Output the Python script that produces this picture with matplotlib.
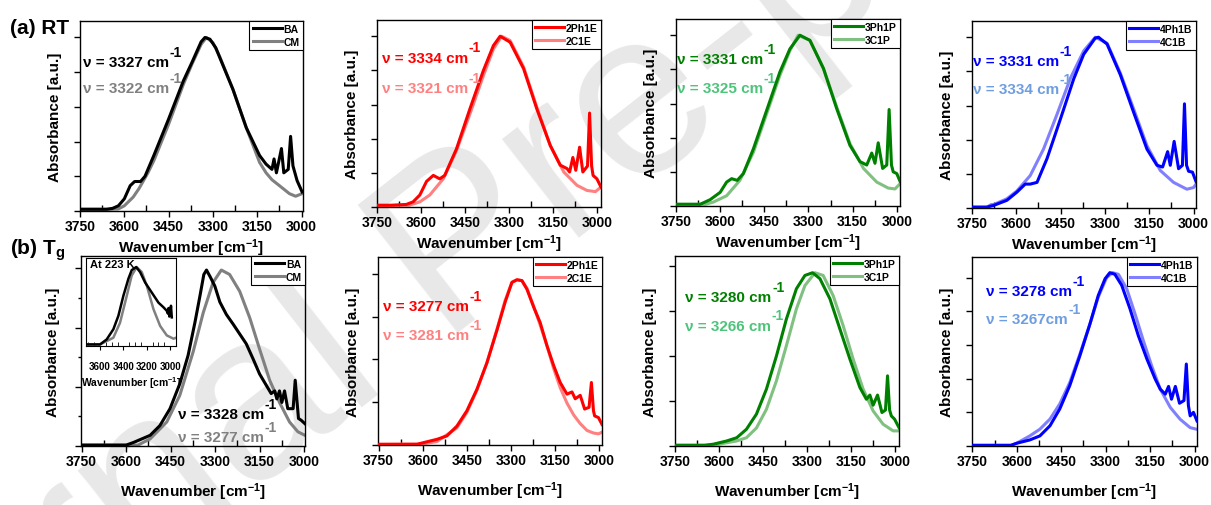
import matplotlib
matplotlib.use("Agg")
import matplotlib.pyplot as plt
from matplotlib.ticker import MultipleLocator

plt.rcParams['font.family'] = ['Liberation Sans', 'DejaVu Sans']
plt.rcParams['font.weight'] = 'bold'
plt.rcParams['mathtext.fontset'] = 'custom'
plt.rcParams['mathtext.rm'] = 'Liberation Sans:bold'
plt.rcParams['mathtext.it'] = 'Liberation Sans:bold'
plt.rcParams['mathtext.bf'] = 'Liberation Sans:bold'
plt.rcParams['mathtext.default'] = 'rm'

# ---- (a) RT spectra (wavenumber / normalised absorbance) ----
rt_ba_w = [3750, 3700, 3660, 3640, 3620, 3600, 3580, 3565, 3545, 3530, 3500, 3450, 3400, 3370, 3340, 3327, 3310,
           3290, 3277, 3232, 3187, 3142, 3120, 3100, 3093, 3085, 3068, 3060, 3045, 3037, 3029, 3015, 2998]
rt_ba_a = [0.01, 0.01, 0.01, 0.015, 0.03, 0.07, 0.146, 0.17, 0.17, 0.2, 0.32, 0.53, 0.75, 0.86, 0.975, 1.0, 0.99,
           0.94, 0.885, 0.70, 0.48, 0.32, 0.27, 0.24, 0.30, 0.22, 0.36, 0.22, 0.24, 0.43, 0.26, 0.175, 0.11]
rt_cm_w = [3750, 3650, 3620, 3600, 3570, 3550, 3520, 3500, 3450, 3400, 3370, 3340, 3322, 3300, 3277, 3232, 3187,
           3142, 3120, 3100, 3074, 3041, 3020, 2998]
rt_cm_a = [0.01, 0.01, 0.012, 0.03, 0.08, 0.13, 0.22, 0.29, 0.50, 0.73, 0.85, 0.96, 1.0, 0.97, 0.89, 0.70, 0.48,
           0.28, 0.22, 0.18, 0.145, 0.10, 0.085, 0.10]

rt_2ph_w = [3750, 3700, 3650, 3627, 3604, 3581, 3558, 3536, 3519, 3479, 3433, 3387, 3353, 3330, 3296, 3250, 3205,
            3159, 3125, 3102, 3093, 3082, 3072, 3059, 3048, 3032, 3025, 3018, 3013, 3000, 2986]
rt_2ph_a = [0.01, 0.01, 0.015, 0.03, 0.07, 0.15, 0.185, 0.165, 0.185, 0.34, 0.575, 0.80, 0.945, 1.0, 0.965, 0.81,
            0.575, 0.36, 0.245, 0.225, 0.205, 0.29, 0.215, 0.35, 0.205, 0.24, 0.55, 0.24, 0.185, 0.165, 0.117]
rt_2c_w = [3750, 3640, 3604, 3570, 3524, 3479, 3433, 3387, 3353, 3325, 3296, 3250, 3205, 3159, 3113, 3068, 3034,
           3005, 2986]
rt_2c_a = [0.01, 0.01, 0.03, 0.07, 0.165, 0.33, 0.545, 0.77, 0.925, 1.0, 0.975, 0.82, 0.585, 0.36, 0.205, 0.127,
           0.097, 0.09, 0.117]

rt_3ph_w = [3750, 3668, 3634, 3600, 3578, 3561, 3542, 3521, 3487, 3442, 3397, 3363, 3329, 3295, 3249, 3204, 3159,
            3125, 3102, 3085, 3074, 3063, 3048, 3034, 3026, 3018, 3012, 3000, 2989]
rt_3ph_a = [0.01, 0.01, 0.037, 0.08, 0.14, 0.16, 0.15, 0.19, 0.335, 0.56, 0.785, 0.92, 1.0, 0.97, 0.805, 0.57,
            0.355, 0.26, 0.24, 0.31, 0.25, 0.37, 0.22, 0.24, 0.565, 0.24, 0.20, 0.19, 0.145]
rt_3c_w = [3750, 3650, 3623, 3578, 3533, 3487, 3442, 3397, 3363, 3335, 3295, 3249, 3204, 3159, 3113, 3068, 3029,
           3006, 2989]
rt_3c_a = [0.01, 0.01, 0.023, 0.06, 0.15, 0.315, 0.54, 0.765, 0.91, 1.0, 0.97, 0.805, 0.58, 0.365, 0.22, 0.14,
           0.105, 0.10, 0.13]

rt_4ph_w = [3750, 3700, 3677, 3632, 3598, 3570, 3553, 3530, 3496, 3451, 3406, 3372, 3333, 3322, 3293, 3248, 3203,
            3158, 3124, 3105, 3088, 3079, 3066, 3051, 3038, 3031, 3024, 3017, 3004, 2992]
rt_4ph_a = [0.005, 0.005, 0.015, 0.045, 0.093, 0.14, 0.14, 0.15, 0.29, 0.52, 0.755, 0.90, 0.995, 1.0, 0.96, 0.78,
            0.56, 0.345, 0.25, 0.24, 0.33, 0.25, 0.39, 0.23, 0.25, 0.61, 0.25, 0.215, 0.21, 0.155]
rt_4c_w = [3750, 3700, 3685, 3677, 3632, 3598, 3553, 3508, 3462, 3417, 3372, 3333, 3293, 3248, 3203, 3158, 3113,
           3068, 3023, 3000, 2992]
rt_4c_a = [0.005, 0.005, 0.02, 0.02, 0.054, 0.10, 0.19, 0.345, 0.55, 0.76, 0.92, 1.0, 0.965, 0.79, 0.58, 0.365,
           0.22, 0.15, 0.11, 0.12, 0.14]

# ---- (b) Tg spectra ----
tg_ba_w = [3750, 3600, 3575, 3519, 3486, 3452, 3419, 3391, 3368, 3351, 3338, 3329, 3316, 3301, 3284, 3262, 3239,
           3217, 3195, 3172, 3150, 3127, 3111, 3099, 3092, 3083, 3075, 3066, 3055, 3037, 3030, 3019, 3010, 2997]
tg_ba_a = [0.005, 0.005, 0.02, 0.06, 0.115, 0.21, 0.35, 0.51, 0.695, 0.845, 0.965, 0.99, 0.95, 0.90, 0.81, 0.74,
           0.685, 0.63, 0.575, 0.49, 0.405, 0.34, 0.295, 0.31, 0.265, 0.31, 0.245, 0.31, 0.21, 0.21, 0.37, 0.155,
           0.145, 0.125]
tg_cm_w = [3750, 3560, 3519, 3463, 3419, 3374, 3340, 3307, 3279, 3251, 3217, 3183, 3150, 3116, 3083, 3049, 3021,
           2997]
tg_cm_a = [0.005, 0.005, 0.04, 0.135, 0.285, 0.53, 0.75, 0.92, 0.99, 0.965, 0.87, 0.72, 0.545, 0.37, 0.245, 0.135,
           0.08, 0.06]

# inset: BA / CM at 223 K
ins_ba_w = [3709, 3600, 3543, 3486, 3443, 3400, 3357, 3329, 3291, 3257, 3214, 3157, 3100, 3057, 3029, 3020, 3014,
            3007, 3000, 2993, 2986]
ins_ba_a = [0.0, 0.0, 0.065, 0.196, 0.37, 0.63, 0.85, 0.96, 1.0, 0.935, 0.80, 0.67, 0.54, 0.48, 0.435, 0.40, 0.47,
            0.36, 0.38, 0.5, 0.35]
ins_cm_w = [3709, 3600, 3486, 3429, 3371, 3329, 3286, 3243, 3200, 3143, 3086, 3029, 2971, 2949]
ins_cm_a = [0.0, 0.0, 0.087, 0.28, 0.63, 0.89, 1.0, 0.935, 0.76, 0.457, 0.24, 0.117, 0.074, 0.087]

tg_2ph_w = [3750, 3620, 3597, 3552, 3518, 3484, 3450, 3416, 3382, 3348, 3320, 3297, 3280, 3263, 3246, 3223, 3201,
            3178, 3155, 3133, 3110, 3093, 3082, 3065, 3050, 3035, 3027, 3020, 3016, 3003, 2991]
tg_2ph_a = [0.004, 0.004, 0.014, 0.033, 0.053, 0.11, 0.2, 0.325, 0.48, 0.67, 0.835, 0.95, 0.965, 0.96, 0.91, 0.805,
            0.715, 0.58, 0.463, 0.365, 0.297, 0.31, 0.27, 0.29, 0.21, 0.22, 0.365, 0.2, 0.17, 0.16, 0.12]
tg_2c_w = [3750, 3600, 3552, 3484, 3450, 3416, 3382, 3348, 3320, 3297, 3280, 3263, 3246, 3223, 3201, 3178, 3155,
           3133, 3110, 3087, 3065, 3042, 3020, 3003, 2991]
tg_2c_a = [0.004, 0.006, 0.02, 0.10, 0.19, 0.32, 0.48, 0.675, 0.845, 0.95, 0.965, 0.96, 0.915, 0.81, 0.70, 0.58,
           0.445, 0.335, 0.245, 0.175, 0.125, 0.085, 0.07, 0.065, 0.075]

tg_3ph_w = [3750, 3650, 3620, 3574, 3540, 3507, 3473, 3439, 3405, 3371, 3337, 3308, 3282, 3257, 3223, 3189, 3155,
            3121, 3099, 3087, 3076, 3061, 3046, 3034, 3027, 3020, 3014, 3003, 2988]
tg_3ph_a = [0.004, 0.004, 0.01, 0.028, 0.046, 0.093, 0.177, 0.316, 0.50, 0.706, 0.874, 0.948, 0.963, 0.93, 0.818,
            0.65, 0.483, 0.325, 0.26, 0.283, 0.227, 0.283, 0.186, 0.2, 0.39, 0.2, 0.167, 0.149, 0.102]
tg_3c_w = [3750, 3620, 3540, 3507, 3473, 3439, 3405, 3371, 3337, 3308, 3274, 3246, 3212, 3178, 3144, 3110, 3076,
           3042, 3008, 2988]
tg_3c_a = [0.004, 0.004, 0.028, 0.046, 0.10, 0.204, 0.362, 0.558, 0.762, 0.892, 0.963, 0.948, 0.836, 0.669, 0.483,
           0.316, 0.195, 0.121, 0.084, 0.084]

tg_4ph_w = [3750, 3620, 3601, 3556, 3522, 3488, 3455, 3421, 3387, 3353, 3325, 3302, 3286, 3269, 3246, 3218, 3190,
            3161, 3133, 3116, 3099, 3088, 3078, 3065, 3051, 3036, 3028, 3021, 3015, 3004, 2992]
tg_4ph_a = [0.004, 0.004, 0.016, 0.036, 0.06, 0.12, 0.22, 0.36, 0.537, 0.726, 0.895, 0.994, 1.03, 1.02, 0.955,
            0.815, 0.656, 0.517, 0.398, 0.338, 0.308, 0.354, 0.278, 0.354, 0.254, 0.27, 0.487, 0.24, 0.179, 0.2,
            0.149]
tg_4c_w = [3750, 3620, 3601, 3556, 3522, 3488, 3455, 3421, 3387, 3353, 3325, 3297, 3277, 3257, 3229, 3201, 3173,
           3145, 3116, 3082, 3049, 3015, 2992]
tg_4c_a = [0.004, 0.004, 0.016, 0.06, 0.10, 0.16, 0.25, 0.378, 0.547, 0.726, 0.885, 1.0, 1.03, 1.02, 0.934, 0.785,
           0.626, 0.477, 0.338, 0.229, 0.159, 0.109, 0.099]

names = [('BA', 'CM'), ('2Ph1E', '2C1E'), ('3Ph1P', '3C1P'), ('4Ph1B', '4C1B')]
dark = ['#000000', '#ff0000', '#008000', '#0000ff']
light = ['#808080', '#ff8080', '#80c080', '#8080ff']
light_txt = ['#808080', '#ff8080', '#4cc47a', '#6f9ee0']

rt_peaks = [('ν = 3327 cm', 'ν = 3322 cm'), ('ν = 3334 cm', 'ν = 3321 cm'),
            ('ν = 3331 cm', 'ν = 3325 cm'), ('ν = 3331 cm', 'ν = 3334 cm')]
tg_peaks = [('ν = 3328 cm', 'ν = 3277 cm'), ('ν = 3277 cm', 'ν = 3281 cm'),
            ('ν = 3280 cm', 'ν = 3266 cm'), ('ν = 3278 cm', 'ν = 3267cm')]

rt_data = [(rt_ba_w, rt_ba_a, rt_cm_w, rt_cm_a), (rt_2ph_w, rt_2ph_a, rt_2c_w, rt_2c_a),
           (rt_3ph_w, rt_3ph_a, rt_3c_w, rt_3c_a), (rt_4ph_w, rt_4ph_a, rt_4c_w, rt_4c_a)]
tg_data = [(tg_ba_w, tg_ba_a, tg_cm_w, tg_cm_a), (tg_2ph_w, tg_2ph_a, tg_2c_w, tg_2c_a),
           (tg_3ph_w, tg_3ph_a, tg_3c_w, tg_3c_a), (tg_4ph_w, tg_4ph_a, tg_4c_w, tg_4c_a)]

W, H = 1211, 506
fig = plt.figure(figsize=(W / 100, H / 100), dpi=100)


def px_axes(l, t, r, b):
    return fig.add_axes([l / W, 1 - b / H, (r - l) / W, (b - t) / H])


# axes boxes in pixels (left, top, right, bottom), x limits, y limits, y tick step, text positions
rt_boxes = [(80, 22, 303, 212), (377, 21, 601, 208), (676, 20, 900, 207), (972, 22, 1196, 209)]
rt_xlims = [(3750, 2995), (3750, 2986), (3750, 2989), (3750, 2992)]
rt_text = [(0.013, 0.784, 0.647), (0.022, 0.797, 0.636), (0.004, 0.786, 0.631), (0.004, 0.786, 0.636)]

tg_boxes = [(81, 257, 305, 447), (378, 258, 602, 446), (675, 257, 899, 447), (972, 258, 1197, 447)]
tg_xlims = [(3752, 2997), (3752, 2991), (3750, 2988), (3751, 2992)]
tg_ylims = [(0, 1.069), (0, 1.098), (0, 1.056), (0, 1.123)]
tg_ystep = [1 / 3, 0.25, 0.25, 0.2]
tg_text = [(0.433, 0.168, 0.047), (0.022, 0.739, 0.585), (0.045, 0.784, 0.632), (0.062, 0.82, 0.672)]


def nu_text(ax, fx, fy, s, color):
    t = ax.text(fx, fy, s, transform=ax.transAxes, color=color, fontsize=11,
                fontweight='bold', va='center', ha='left')
    ax.annotate('-1', xy=(1, 1), xycoords=t, xytext=(0.5, 2.5), textcoords='offset points',
                color=color, fontsize=10, fontweight='bold', va='center', ha='left')


def style(ax, xlim, ylim, ystep, labelpad):
    ax.set_facecolor('none')
    ax.set_xlim(*xlim)
    ax.set_ylim(*ylim)
    ax.xaxis.set_major_locator(MultipleLocator(150))
    ax.xaxis.set_minor_locator(MultipleLocator(75))
    ax.yaxis.set_major_locator(MultipleLocator(ystep))
    ax.tick_params(axis='x', which='major', direction='out', length=4, width=1, labelsize=10, pad=2)
    ax.tick_params(axis='x', which='minor', direction='in', length=4, width=1)
    ax.tick_params(axis='y', which='major', direction='out', length=4, width=1, labelleft=False)
    ax.ticklabel_format(axis='x', useOffset=False)
    ax.set_xlabel('Wavenumber [cm$^{-1}$]', fontsize=11, fontweight='bold', labelpad=labelpad)
    ax.set_ylabel('Absorbance [a.u.]', fontsize=11, fontweight='bold', labelpad=9)
    for sp in ax.spines.values():
        sp.set_linewidth(1.0)


def draw_row(boxes, data, xlims, ylims, ysteps, texts, peaks, labelpad):
    for i in range(4):
        ax = px_axes(*boxes[i])
        w1, a1, w2, a2 = data[i]
        ax.plot(w1, a1, color=dark[i], lw=2.2, label=names[i][0], zorder=3, solid_joinstyle='round')
        ax.plot(w2, a2, color=light[i], lw=2.2, label=names[i][1], zorder=2, solid_joinstyle='round')
        style(ax, xlims[i], ylims[i], ysteps[i], labelpad)
        leg = ax.legend(loc='upper right', borderaxespad=0, fancybox=False, framealpha=1,
                        edgecolor='black', handlelength=2.8, handletextpad=0.2, borderpad=0.3,
                        labelspacing=0.25, prop={'size': 7.5, 'weight': 'bold'})
        leg.get_frame().set_linewidth(0.8)
        fx, fy1, fy2 = texts[i]
        nu_text(ax, fx, fy1, peaks[i][0], dark[i])
        nu_text(ax, fx, fy2, peaks[i][1], light_txt[i])
        if i == 0 and data is tg_data:
            ax.yaxis.set_minor_locator(MultipleLocator(1 / 6))
            ax.tick_params(axis='y', which='minor', direction='out', length=2.5, width=1)


draw_row(rt_boxes, rt_data, rt_xlims, [(0, 1.095)] * 4, [0.2] * 4, rt_text, rt_peaks, 2)
draw_row(tg_boxes, tg_data, tg_xlims, tg_ylims, tg_ystep, tg_text, tg_peaks, 9)

# inset of BA/CM at 223 K
ins = px_axes(86, 259, 176, 347)
ins.plot(ins_ba_w, ins_ba_a, color='black', lw=1.8, zorder=3, solid_joinstyle='round')
ins.plot(ins_cm_w, ins_cm_a, color='#808080', lw=1.8, zorder=2, solid_joinstyle='round')
ins.set_xlim(3720, 2950)
ins.set_ylim(-0.02, 1.117)
ins.xaxis.set_major_locator(MultipleLocator(200))
ins.xaxis.set_minor_locator(MultipleLocator(50))
ins.tick_params(axis='x', which='major', direction='out', length=3, labelsize=7, pad=8)
ins.tick_params(axis='x', which='minor', direction='in', length=3)
ins.tick_params(axis='y', left=False, labelleft=False)
ins.set_xlabel('Wavenumber [cm$^{-1}$]', fontsize=7.5, fontweight='bold', labelpad=2)
ins.text(0.04, 0.93, 'At 223 K', transform=ins.transAxes, fontsize=8, fontweight='bold', va='center')

fig.text(10 / W, 1 - 28 / H, '(a) RT', fontsize=15, fontweight='bold', va='center')
fig.text(10 / W, 1 - 250 / H, '(b) T$_{g}$', fontsize=15, fontweight='bold', va='center')

# watermark
fig.text(462 / W, 1 - 252 / H, 'Journal Pre-proof', fontsize=170, color='#e8e8e8', rotation=38,
         ha='center', va='center', fontweight='normal', zorder=-5)

fig.savefig('out.png', dpi=100)
